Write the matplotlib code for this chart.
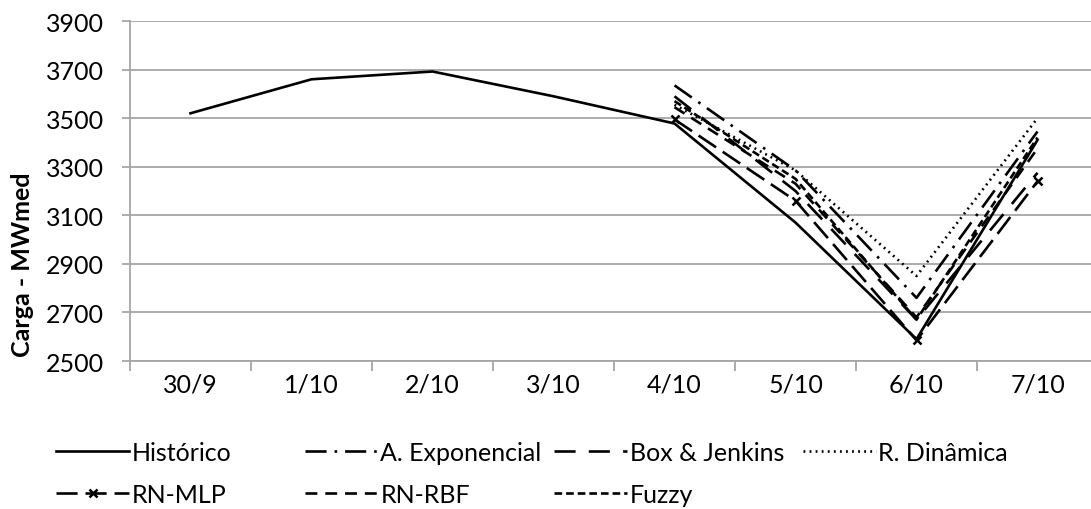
import numpy as np
import matplotlib

matplotlib.use("Agg")
import matplotlib.pyplot as plt
from matplotlib.ticker import FixedLocator, NullFormatter, FixedFormatter

plt.rcParams.update({"font.family": ["Lato", "DejaVu Sans"], "font.size": 18})

# data
dias = ["30/9", "1/10", "2/10", "3/10", "4/10", "5/10", "6/10", "7/10"]
historico = [3520, 3660, 3692, 3590, 3478, 3070, 2590, 3410]
inicio_previsao = 4  # forecasts start at 4/10
a_exponencial = [3635, 3285, 2760, 3445]
box_jenkins = [3590, 3200, 2670, 3275]
r_dinamica = [3555, 3285, 2850, 3500]
rn_mlp = [3495, 3160, 2585, 3240]
rn_rbf = [3545, 3230, 2680, 3375]
fuzzy = [3570, 3250, 2670, 3420]
y_ticks = list(range(2500, 4000, 200))

GRID = "#a6a6a6"
LW = 1.9

W, H = 1091, 510
fig = plt.figure(figsize=(W / 100, H / 100), dpi=100)
ax = fig.add_axes([130 / W, 148 / H, 968 / W, 340 / H])

x = np.arange(len(dias))
xp = x[inicio_previsao:]

series = [
    ("Histórico", x, historico, dict(linestyle="-")),
    ("A. Exponencial", xp, a_exponencial, dict(dashes=(8.0, 3.0, 1.0, 3.0))),
    ("Box & Jenkins", xp, box_jenkins, dict(dashes=(8.0, 5.0))),
    ("R. Dinâmica", xp, r_dinamica, dict(dashes=(0.7, 1.6))),
    ("RN-MLP", xp, rn_mlp, dict(dashes=(8.0, 3.0), marker="x", markersize=6, markeredgewidth=1.8)),
    ("RN-RBF", xp, rn_rbf, dict(dashes=(4.5, 3.0))),
    ("Fuzzy", xp, fuzzy, dict(dashes=(2.9, 1.5))),
]
handles = {}
for nome, xs, ys, estilo in series:
    (h,) = ax.plot(xs, ys, color="black", lw=LW, **estilo)
    handles[nome] = h

ax.set_xlim(-0.5, len(dias) - 0.5)
ax.set_ylim(2500, 3900)
ax.set_yticks(y_ticks)
ax.yaxis.grid(True, color=GRID, lw=1.3)
ax.set_axisbelow(True)
for s in ("top", "right"):
    ax.spines[s].set_visible(False)
for s in ("left", "bottom"):
    ax.spines[s].set_color(GRID)
    ax.spines[s].set_linewidth(1.3)

ax.xaxis.set_major_locator(FixedLocator(np.arange(-0.5, len(dias), 1)))
ax.xaxis.set_major_formatter(NullFormatter())
ax.xaxis.set_minor_locator(FixedLocator(x))
ax.xaxis.set_minor_formatter(FixedFormatter(dias))
ax.tick_params(axis="x", which="major", length=7.5, width=1.3, color=GRID)
ax.tick_params(axis="x", which="minor", length=0, pad=8)
ax.tick_params(axis="y", length=5.8, width=1.3, color=GRID, pad=13)

ax.set_ylabel("Carga - MWmed", fontweight="bold")
ax.yaxis.set_label_coords(-0.099, 0.285)

# legend: four equal columns, two rows, like the original
colunas = [
    ["Histórico", "RN-MLP"],
    ["A. Exponencial", "RN-RBF"],
    ["Box & Jenkins", "Fuzzy"],
    ["R. Dinâmica"],
]
for i, nomes in enumerate(colunas):
    fig.legend(
        [handles[n] for n in nomes], nomes,
        loc="upper left", bbox_to_anchor=((56 + 249 * i) / W, 1 - 442 / H),
        frameon=False, borderpad=0, borderaxespad=0,
        handlelength=2.92, handletextpad=0.1, labelspacing=0.75,
    )

fig.savefig("out.png", dpi=100)
